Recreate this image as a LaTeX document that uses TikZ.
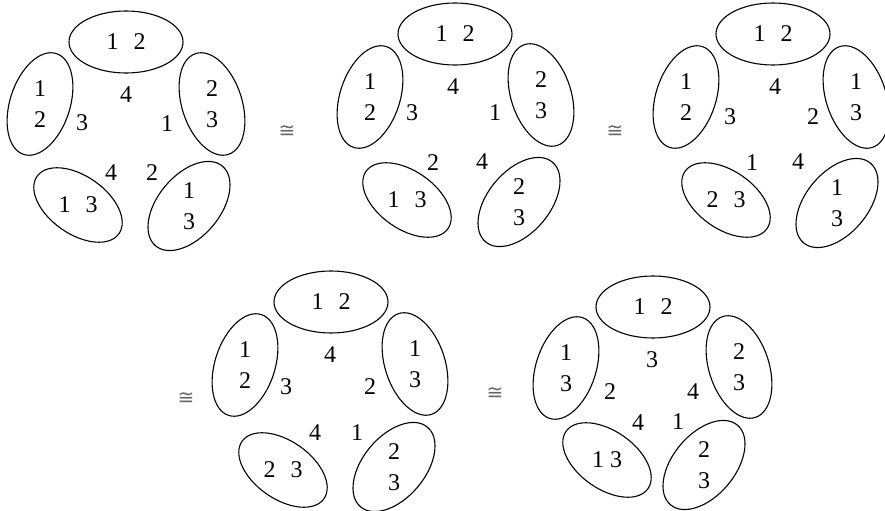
\documentclass[tikz,border=0pt]{standalone}
\usepackage{fontspec}
\setmainfont{Liberation Serif}
\newfontfamily\isofont{DejaVu Sans}
\usetikzlibrary{positioning,calc}

\newcommand{\digits}{\fontsize{12}{15.5}\selectfont}
\newcommand{\duo}[2]{#1\hspace{7.5pt}#2}
\newcommand{\ringat}[4]{\draw[ring, rotate around={#2:(#1)}] (#1) ellipse [x radius=#3, y radius=#4];}

\tikzset{
  ring/.style={line width=0.55pt},
  lbl/.style={inner sep=0pt, align=center, font=\digits},
  iso/.style={inner sep=0pt, text=black!60, font=\fontsize{10}{12}\isofont},
}

\begin{document}
\begin{tikzpicture}[x=0.5pt,y=0.5pt]
\useasboundingbox (0,0) rectangle (885,510);

% first pentagon
\begin{scope}[shift={(126,378)}]
  \node[lbl] (d1top) at (0,90) {\duo12};
  \node[lbl] (d1left) at (-86,28) {1\\2};
  \node[lbl] (d1right) at (86,28) {2\\3};
  \node[lbl] (d1bl) at (-48,-73) {\duo13};
  \node[lbl] (d1br) at (63,-74) {1\\3};
  \ringat{d1top}{0}{57}{31}
  \ringat{d1left}{72}{53}{30}
  \ringat{d1right}{108}{53}{30}
  \ringat{d1bl}{-35}{50}{29}
  \ringat{d1br}{50}{52}{31}
  \node[lbl] (d1a) at (0,37) {4};
  \node[lbl] (d1b) at (-44,9) {3};
  \node[lbl] (d1c) at (41,8) {1};
  \node[lbl] (d1d) at (-15,-41) {4};
  \node[lbl] (d1e) at (26,-41) {2};
\end{scope}

\node[iso] (c1) at (287,378) {≅};

% second pentagon
\begin{scope}[shift={(455,384)}]
  \node[lbl] (d2top) at (0,92) {\duo12};
  \node[lbl] (d2left) at (-85,29) {1\\2};
  \node[lbl] (d2right) at (86,31) {2\\3};
  \node[lbl] (d2bl) at (-48,-74) {\duo13};
  \node[lbl] (d2br) at (64,-76) {2\\3};
  \ringat{d2top}{0}{57}{31}
  \ringat{d2left}{72}{53}{30}
  \ringat{d2right}{108}{53}{30}
  \ringat{d2bl}{-35}{50}{29}
  \ringat{d2br}{50}{52}{31}
  \node[lbl] (d2a) at (-2,39) {4};
  \node[lbl] (d2b) at (-43,13) {3};
  \node[lbl] (d2c) at (40,13) {1};
  \node[lbl] (d2d) at (-22,-37) {2};
  \node[lbl] (d2e) at (27,-36) {4};
\end{scope}

\node[iso] (c2) at (615,378) {≅};

% third pentagon
\begin{scope}[shift={(773,384)}]
  \node[lbl] (d3top) at (0,92) {\duo12};
  \node[lbl] (d3left) at (-87,29) {1\\2};
  \node[lbl] (d3right) at (83,29) {1\\3};
  \node[lbl] (d3bl) at (-47,-74) {\duo23};
  \node[lbl] (d3br) at (64,-77) {1\\3};
  \ringat{d3top}{0}{57}{31}
  \ringat{d3left}{72}{53}{30}
  \ringat{d3right}{108}{53}{30}
  \ringat{d3bl}{-35}{50}{29}
  \ringat{d3br}{50}{52}{31}
  \node[lbl] (d3a) at (2,39) {4};
  \node[lbl] (d3b) at (-43,9) {3};
  \node[lbl] (d3c) at (40,9) {2};
  \node[lbl] (d3d) at (-21,-37) {1};
  \node[lbl] (d3e) at (25,-36) {4};
\end{scope}

\node[iso] (c3) at (186,111) {≅};

% fourth pentagon
\begin{scope}[shift={(331,116)}]
  \node[lbl] (d4top) at (0,92) {\duo12};
  \node[lbl] (d4left) at (-86,29) {1\\2};
  \node[lbl] (d4right) at (84,30) {1\\3};
  \node[lbl] (d4bl) at (-48,-76) {\duo23};
  \node[lbl] (d4br) at (63,-73) {2\\3};
  \ringat{d4top}{0}{57}{31}
  \ringat{d4left}{72}{53}{30}
  \ringat{d4right}{108}{53}{30}
  \ringat{d4bl}{-35}{50}{29}
  \ringat{d4br}{50}{52}{31}
  \node[lbl] (d4a) at (-1,39) {4};
  \node[lbl] (d4b) at (-45,7) {3};
  \node[lbl] (d4c) at (39,7) {2};
  \node[lbl] (d4d) at (-16,-39) {4};
  \node[lbl] (d4e) at (26,-39) {1};
\end{scope}

\node[iso] (c4) at (495,116) {≅};

% fifth pentagon
\begin{scope}[shift={(653,117)}]
  \node[lbl] (d5top) at (0,86) {\duo12};
  \node[lbl] (d5left) at (-87,25) {1\\3};
  \node[lbl] (d5right) at (86,26) {2\\3};
  \node[lbl] (d5bl) at (-46,-67) {1\hspace{3pt}3};
  \node[lbl] (d5br) at (51,-72) {2\\3};
  \ringat{d5top}{0}{57}{31}
  \ringat{d5left}{72}{53}{30}
  \ringat{d5right}{108}{53}{30}
  \ringat{d5bl}{-35}{50}{29}
  \ringat{d5br}{50}{52}{31}
  \node[lbl] (d5a) at (-1,33) {3};
  \node[lbl] (d5b) at (-43,1) {2};
  \node[lbl] (d5c) at (40,1) {4};
  \node[lbl] (d5d) at (-15,-30) {4};
  \node[lbl] (d5e) at (25,-29) {1};
\end{scope}
\end{tikzpicture}
\end{document}
